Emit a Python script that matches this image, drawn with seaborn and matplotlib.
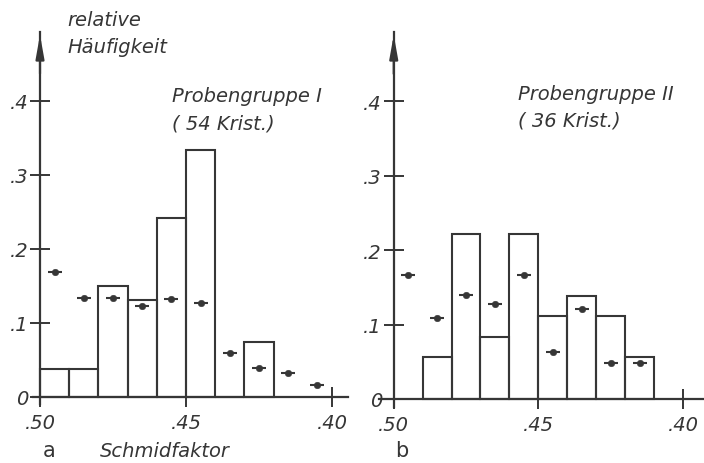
import numpy as np
import pandas as pd
import matplotlib
matplotlib.use("Agg")
import matplotlib.pyplot as plt
import seaborn as sns

# ---------------------------------------------------------------
# data (relative frequency per Schmid bin)
# ---------------------------------------------------------------
bin_centers_a = [0.495, 0.485, 0.475, 0.465, 0.455, 0.445, 0.435, 0.425]
rel_freq_a = [0.037, 0.037, 0.150, 0.131, 0.241, 0.334, 0.0, 0.074]
dot_x_a = [0.495, 0.485, 0.475, 0.465, 0.455, 0.445, 0.435, 0.425, 0.415, 0.405]
dot_y_a = [0.169, 0.134, 0.134, 0.123, 0.132, 0.127, 0.059, 0.039, 0.032, 0.016]

bin_centers_b = [0.485, 0.475, 0.465, 0.455, 0.445, 0.435, 0.425, 0.415]
rel_freq_b = [0.056, 0.222, 0.083, 0.222, 0.111, 0.139, 0.111, 0.056]
dot_x_b = [0.495, 0.485, 0.475, 0.465, 0.455, 0.445, 0.435, 0.425, 0.415]
dot_y_b = [0.167, 0.109, 0.140, 0.128, 0.167, 0.063, 0.121, 0.049, 0.049]

y_ticks = [0, 0.1, 0.2, 0.3, 0.4]
y_ticklabels = ["0", ".1", ".2", ".3", ".4"]
x_ticks = [0.50, 0.45, 0.40]
x_ticklabels = [".50", ".45", ".40"]

sns.set_style("white")
plt.rcParams["font.family"] = ["DejaVu Sans"]

ink = "#363636"
W, H = 704, 464
fig = plt.figure(figsize=(W / 100, H / 100), dpi=100)


def px_axes(left, right, top, bottom):
    return fig.add_axes([left / W, (H - bottom) / H, (right - left) / W, (bottom - top) / H])


def draw_panel(ax, centers, freqs, lo, hi, dx, dy, xlim, ylim):
    sns.histplot(x=centers, weights=freqs, binwidth=0.01, binrange=(lo, hi),
                 fill=False, color=ink, linewidth=1.5, ax=ax)
    sns.scatterplot(x=dx, y=dy, marker="_", s=110, color=ink, linewidth=1.5, ax=ax)
    sns.scatterplot(x=dx, y=dy, marker="o", s=22, color=ink, edgecolor=ink, ax=ax)
    ax.set_xlim(*xlim)
    ax.set_ylim(*ylim)
    ax.set_xlabel("")
    ax.set_ylabel("")
    for side in ["top", "right"]:
        ax.spines[side].set_visible(False)
    ax.spines["left"].set_position(("data", 0.50))
    ax.spines["bottom"].set_position(("data", 0))
    for side in ["left", "bottom"]:
        ax.spines[side].set_color(ink)
        ax.spines[side].set_linewidth(1.6)
    ax.set_yticks(y_ticks)
    ax.set_yticklabels(y_ticklabels, fontstyle="italic", fontsize=14, color=ink)
    ax.set_xticks(x_ticks)
    ax.set_xticklabels(x_ticklabels, fontstyle="italic", fontsize=14, color=ink)
    ax.tick_params(axis="both", direction="inout", length=15, width=1.4, color=ink,
                   bottom=True, left=True)
    ax.tick_params(axis="x", pad=4)
    ax.tick_params(axis="y", pad=1)
    ax.patch.set_alpha(0)
    # arrow head on the ordinate
    ax.annotate("", xy=(0.50, ylim[1]), xytext=(0.50, ylim[1] - 0.06),
                arrowprops=dict(arrowstyle="-|>,head_length=1.4,head_width=0.25",
                                color=ink, lw=1.6), annotation_clip=False)


ax_a = px_axes(33, 348, 33, 405)
draw_panel(ax_a, bin_centers_a, rel_freq_a, 0.42, 0.50, dot_x_a, dot_y_a,
           (0.5024, 0.3945), (-0.0099, 0.4928))

ax_b = px_axes(379, 704, 33, 408)
draw_panel(ax_b, bin_centers_b, rel_freq_b, 0.41, 0.49, dot_x_b, dot_y_b,
           (0.5051, 0.3927), (-0.0108, 0.4933))


def ftext(x, y, s, size=14, **kw):
    fig.text(x / W, (H - y) / H, s, color=ink, fontsize=size, va="baseline", **kw)


ftext(67, 26, "relative", fontstyle="italic")
ftext(67, 53, "Häufigkeit", fontstyle="italic")
ftext(172, 102, "Probengruppe I", fontstyle="italic")
ftext(172, 129, "( 54 Krist.)", fontstyle="italic")
ftext(518, 100, "Probengruppe II", fontstyle="italic")
ftext(518, 127, "( 36 Krist.)", fontstyle="italic")
ftext(43, 457, "a", size=15)
ftext(100, 457, "Schmidfaktor", fontstyle="italic")
ftext(395, 457, "b", size=15)

fig.savefig("out.png", dpi=100)
